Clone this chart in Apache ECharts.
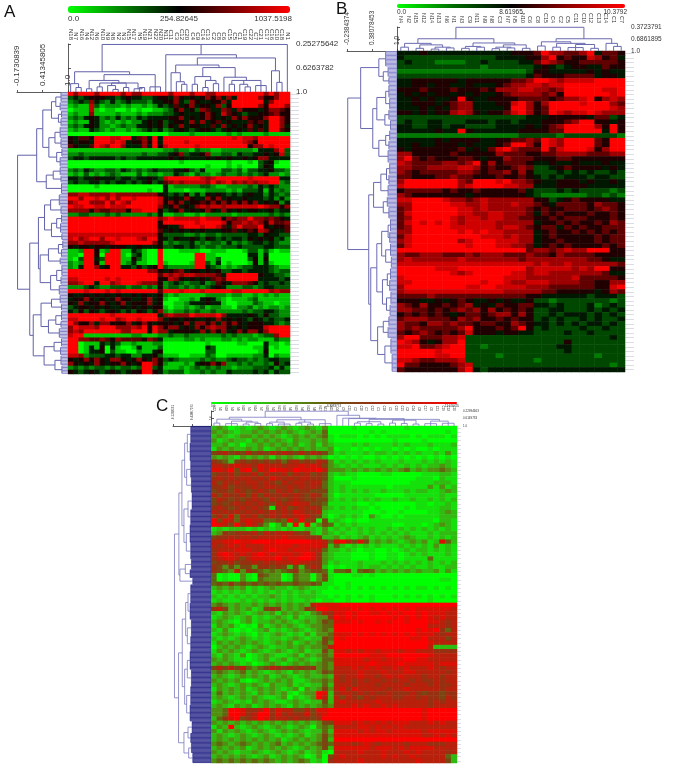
<!DOCTYPE html>
<html>
<head>
<meta charset="utf-8">
<title>Heatmaps</title>
<script src="https://cdn.jsdelivr.net/npm/echarts@6/dist/echarts.min.js"></script>
<style>
  html, body { margin: 0; padding: 0; background: #fff; }
  #chart { width: 677px; height: 769px; }
</style>
</head>
<body>
<div id="chart"></div>
<script>
// colour level of each cell, 0 = green, 4.5 = black, 9 = red
const rowsA = [
'979997 999979 779999 979997 997799 999999 979799',
'343455 544345 443345 547545 457574 749999 755799',
'234374 324234 333244 557437 544557 499999 947999',
'121183 122212 112124 346457 455473 599999 759997',
'011181 011001 010011 235745 376447 647555 457765',
'121171 111211 121222 334544 457548 654344 556755',
'232454 232423 243444 455745 457545 475755 579975',
'121154 212121 224545 345547 474564 544465 649975',
'232454 221232 244545 354745 544647 454574 549974',
'121143 212112 123434 234543 455434 545464 649965',
'000000 000000 000000 011112 111111 212111 121111',
'546659 998899 467494 999999 999999 989887 999999',
'545549 998984 557594 999989 999999 999875 999999',
'654469 879974 447495 899999 899999 999957 798999',
'111111 111111 111111 223221 322112 222221 444793',
'223222 222222 223223 345734 457223 324334 454583',
'344344 444343 344444 454544 445454 544545 774444',
'000000 000000 000000 000100 000000 100010 345100',
'000000 000000 000000 000000 001000 101000 354000',
'232432 233243 232343 334453 241113 323133 445332',
'121312 123211 131221 224321 322123 223232 342212',
'443445 444344 344543 899999 987899 999989 999944',
'343344 343443 434534 678788 887978 978787 889923',
'000001 000000 000000 412222 233211 222232 434322',
'000000 000000 000100 411101 112222 121333 414232',
'778877 778777 777775 434352 425454 343454 424323',
'997998 979799 899998 545475 447574 544544 434242',
'789977 797987 999998 575745 565757 575757 454524',
'988998 898889 999997 457454 787887 888888 987757',
'777757 667775 889995 345745 457547 545455 445344',
'223322 232322 222324 112211 212222 212222 223232',
'999999 999999 999997 898888 898885 767797 767654',
'999999 999999 999995 999999 899998 577878 758667',
'999999 999999 999995 544799 989986 479777 954556',
'999999 999999 999996 454545 454445 564565 875446',
'888888 888888 888885 333322 323323 333344 354433',
'897899 799899 987995 435445 435434 344354 545342',
'778777 778999 999975 232334 232332 423234 434322',
'545545 545554 454445 334434 323323 334333 344333',
'112995 129911 431009 000111 100111 000133 131011',
'110995 099910 341009 000000 991100 000044 140000',
'103994 399911 531009 000000 991130 000035 150000',
'212995 199912 411009 100001 993140 100015 141000',
'214997 459944 353459 322222 994321 212334 443211',
'999999 999999 999775 456745 545453 344344 443233',
'999999 999999 999996 878788 777764 999999 544332',
'889999 989899 999995 587545 454676 999999 444434',
'778994 997899 987775 234323 342365 477765 343343',
'222343 223332 332325 233232 323454 222332 344333',
'999899 989899 999996 999899 989999 988999 997877',
'544545 454544 545445 212111 112222 122112 121211',
'455754 545755 445745 100112 145421 011123 111111',
'547455 754574 555745 001124 445441 001113 211011',
'345545 454454 545455 101121 231221 102231 212212',
'435354 345434 354347 212232 322322 222323 344322',
'999999 998999 999994 787779 888897 444454 353322',
'889999 899789 989997 455455 445474 545435 434334',
'975574 775557 457545 554574 775747 575455 544323',
'798887 999777 879597 577454 757877 545455 589999',
'787999 999977 999597 745555 474757 457577 579999',
'899111 111111 221112 232232 222223 232221 233799',
'997766 765766 665764 111122 121112 212122 111322',
'990111 434311 211122 000000 001000 001100 041101',
'990141 504100 141113 000000 004300 000001 140100',
'990144 503110 021145 000000 003300 000000 150000',
'887233 344344 224453 111001 113200 111112 240211',
'545757 547754 575475 343222 232322 343323 234433',
'754547 545575 459975 211121 455757 223232 232534',
'232323 323233 239934 111212 323232 212223 334242',
'543454 345434 559954 233312 232322 433334 342433'
];

const rowsB = [
'444544 444444 444555 697766 794665',
'433333 333333 344445 579565 587564',
'343332 222334 333344 687655 666665',
'333333 333332 333333 454345 544655',
'222222 222222 222223 554444 454544',
'333333 333333 333334 655566 664554',
'445555 554555 555667 998788 889999',
'445545 544544 456778 878899 999999',
'555655 565556 577788 776799 999889',
'454545 545454 456777 767599 999989',
'445454 459544 555566 665677 895787',
'445554 567744 455897 579999 899976',
'444545 467744 445997 569999 999987',
'554545 578754 556897 569878 898777',
'333333 333333 333334 445555 546634',
'343344 333444 344344 455567 995545',
'443344 344333 344445 456799 997595',
'444445 449544 444455 556699 999495',
'222222 222222 222233 333233 333332',
'444445 455554 455667 698799 996599',
'445445 554544 456997 598799 996599',
'545555 556454 689766 696899 985799',
'775555 565555 576665 566777 766677',
'796565 556654 557666 555665 555555',
'876666 776795 756665 445445 444544',
'776677 778875 655676 334565 555454',
'765666 667765 667575 333434 343343',
'665556 676655 565565 434344 434433',
'799999 997699 989776 544555 454454',
'899999 997899 998877 444555 544444',
'566666 565565 555564 333434 333323',
'765555 555455 555554 322222 233232',
'889999 877678 777777 553456 555544',
'779999 988778 777877 654666 657665',
'679999 998878 777776 565566 656765',
'689999 998877 887776 465655 565565',
'679999 987887 887766 556566 655565',
'689898 987888 877777 455656 556576',
'679999 988888 878876 566465 655666',
'779999 998989 887777 456556 565656',
'689999 999998 887877 456555 556566',
'789999 997899 988877 455655 556566',
'689999 999899 988776 456565 555656',
'999999 999999 999996 776787 799955',
'766777 666767 776667 665766 665555',
'787777 778777 777767 777777 766544',
'888888 888888 888888 787787 777776',
'999998 889999 999997 888887 879955',
'999999 987899 999887 887777 777644',
'899999 999999 998887 777778 666665',
'889999 999998 998778 887777 665577',
'799999 999889 988887 776666 665589',
'788888 888888 887777 766555 554576',
'666676 666666 666665 544444 434443',
'555445 456544 545445 332333 333323',
'765755 656745 465566 443433 342343',
'776656 567675 756565 334433 343434',
'565656 545665 677575 334344 434343',
'677766 657675 565655 343433 434334',
'766577 676656 655765 443434 344343',
'767666 667955 565695 343333 433433',
'656765 656855 545544 333343 343333',
'799666 778333 333333 333333 333343',
'987545 779333 333333 333353 333333',
'889667 899332 333333 333443 333333',
'999998 999333 333333 333343 333333',
'999998 899333 323333 333333 332333',
'887667 778333 333333 233333 333333',
'966555 567833 333333 333333 333323',
'655555 557943 444444 444444 444444'
];

const rowsC = [
'232012 123212 321232 130000 100000 000100 000000',
'323212 232323 232123 240000 000101 000000 000010',
'232123 323232 123232 341011 101010 111101 011101',
'312322 132323 213223 231000 000000 010000 100000',
'223120 223232 323123 132111 212111 121211 121112',
'132322 323123 232323 223011 010101 101010 010111',
'567565 756576 765757 653121 112122 121212 112131',
'323213 232313 232132 320101 010010 101010 101010',
'654256 565656 467565 763121 212121 112111 212121',
'776787 768777 677878 753212 121112 121212 122321',
'887958 958798 879888 973332 323232 323423 233432',
'566756 675766 757675 652121 100001 100000 111221',
'676767 767687 676776 652000 100000 000001 110211',
'757676 776765 767767 742111 000000 000011 112221',
'667566 676776 676767 642121 111111 011111 131312',
'566576 567657 675665 552121 212112 111212 211232',
'757667 575766 767657 642011 111100 000111 111211',
'576565 676576 567656 552121 212121 121121 121212',
'565676 767657 678775 541111 100100 000001 101121',
'676567 676516 756767 632121 211010 000101 111221',
'767676 767676 768766 721111 110001 001000 011232',
'575847 675676 767876 520121 210310 010111 111222',
'958747 877445 495956 051210 100111 111111 110221',
'987596 875302 419191 354121 211111 100111 012321',
'121222 121212 121122 131212 121211 212121 212121',
'236566 675767 776562 132121 121212 121211 121222',
'566767 767777 877766 622312 123121 212321 121212',
'778898 899989 999998 874897 585232 321232 312842',
'767878 777888 887888 872421 212121 112121 213121',
'677788 877898 878887 742212 101100 101212 212121',
'689878 789878 887898 632111 000100 110121 211121',
'678875 788889 788998 632111 000100 110111 141111',
'566756 676767 778776 631211 121112 121212 121212',
'653535 536656 525257 620101 121221 212121 121122',
'654373 654343 456345 541445 145423 232323 223131',
'401003 105433 014330 351000 110100 000000 000000',
'401003 104333 014330 351000 000000 000000 000110',
'454645 454545 445445 411001 000000 000000 000000',
'232323 121232 212321 110101 010101 010101 101010',
'121212 121212 121212 100000 000000 000000 000000',
'212121 212232 121222 110101 010100 010101 010101',
'121112 121212 121121 011001 000100 000000 010000',
'343232 232323 232327 888899 999999 999999 999999',
'675232 312565 232365 998888 989898 989898 888887',
'213232 123231 323213 476889 899889 898998 988877',
'123212 312123 213122 336989 899999 989898 987877',
'232102 312232 321232 354888 989989 899899 988767',
'132310 103123 232123 344999 999999 999999 977767',
'213101 012312 123212 343999 999999 999998 989647',
'123212 102123 212131 334888 989898 989898 887677',
'212123 212122 123212 254989 999999 999988 977757',
'132323 232123 231232 353999 999999 999999 987777',
'023232 123212 232323 347999 999999 999999 972222',
'132321 232123 212312 253887 878878 887887 776666',
'213213 012321 123132 343999 999888 999999 987777',
'323211 012312 312321 244888 887887 888998 877777',
'232321 201232 123232 343888 888988 889888 887888',
'575757 434576 565656 343777 878787 787877 787677',
'343234 232123 213232 354777 787778 777887 777767',
'232123 232312 321232 232767 787767 878777 677677',
'323231 012323 231123 343767 676776 767767 667677',
'232123 232132 231212 242777 677767 777677 767667',
'132323 123232 123032 353786 877777 677877 777677',
'242323 213232 310233 982677 676766 766676 566566',
'232123 232112 302123 972757 657677 766776 766576',
'123212 132321 123212 252787 777787 777777 767677',
'232132 312323 213232 343777 878778 787777 767777',
'334998 667968 775575 889999 999999 999999 899999',
'334998 679968 676685 789999 999999 999999 899999',
'246895 679867 767665 699999 999999 999999 899999',
'323232 323232 323232 355888 787878 788877 787877',
'132921 232123 212320 343777 788787 878777 777777',
'313232 123212 323212 242888 878788 788888 788888',
'232123 212321 212312 353888 888888 888888 778787',
'232323 232323 123232 352999 999999 999999 999999',
'343234 323234 232323 454777 678767 777677 766677',
'232323 123232 321232 352888 888788 878788 887777',
'323212 232123 212312 310777 787778 777878 777767',
'232323 212312 323201 305787 777778 787787 777742',
'343434 343432 323431 206777 787777 777778 777752'
];

const samplesA = ['N18','N7','N16','N4','N12','N6','N10','N9','N8','N2','N3','N15','N17','N5','N19','N21','N22','N20','N11','C11','C3','C12','C20','C4','C9','C14','C13','C2','C8','C6','C15','C5','C1','C19','C22','C7','C21','C17','C16','C10','C18','N1'];
const samplesB = ['N4','N2','N15','N12','N14','N13','N6','N1','N3','C9','N11','N9','N8','C3','N7','N5','N10','C6','C8','C15','C4','C2','C5','C11','C10','C12','C13','C14','C1','C7'];
const samplesC = ['N12','N5','N18','N3','N9','N20','N1','N14','N7','N16','N2','N21','N10','N6','N19','N4','N13','N8','N17','N11','N15','C4','C9','C15','C2','C20','C7','C12','C1','C18','C5','C10','C21','C3','C14','C8','C17','C6','C11','C19','C13','C16'];

// dendrograms: [merge height, children...], a plain number is that many leaves
const colTreeA = [0.26,
  [0.685,
    [0.87, 1, [0.93, 2]],
    [0.73,
      [0.82, [0.95, 2], [0.86, [0.92, 2], [0.86, [0.9, 1, [0.96, 2]], [0.93, 2]], [0.95, 1, [0.93, 2]]]],
      [0.92, 1, 2]]],
  [0.42,
    1,
    [0.47,
      [0.58,
        [0.7, 1, [0.84, 1, [0.88, 2]]],
        [0.62,
          [0.76, [0.88, 2], [0.82, [0.93, 2], [0.87, 2]]],
          [0.77, 1, [0.82, [0.88, 2], [0.88, 1, [0.92, 2]], [0.9, 3]]]]],
      [0.67, 1, [0.85, 2]]]],
  1];
const colTreeB = [0.38,
  [0.68,
    [0.8, [0.9, 2], [0.84, [0.93, 2], [0.9, [0.95, 2], [0.92, 2]]]],
    [0.79, [0.88, [0.93, 2], [0.9, 2]], [0.84, [0.9, [0.94, 2], [0.92, 2]], [0.93, 2]]]],
  [0.68,
    [0.76, [0.87, 2], [0.8, [0.9, 2], [0.83, [0.91, 3], [0.93, 2]]]],
    [0.8, 1, [0.88, 2]]]];
const colTreeC = [0.24,
  [0.55,
    [0.65, [0.85, 2], [0.75, [0.88, 3], [0.8, [0.9, 2], [0.87, 2]]]],
    [0.68, [0.8, [0.88, 2], [0.9, 3]], [0.8, [0.86, 2], [0.9, 2]], [0.88, 3]]],
  [0.45, 1, [0.6, 1, [0.62, 1, [0.66,
    [0.78, [0.85, 2], [0.88, 2], [0.9, 2]],
    [0.7, [0.85, 2], [0.87, 2], [0.9, 2]],
    [0.75, [0.88, 3], [0.86, 3]]]]]]];

const rowTreeA = [-0.16,
  [0.28,
    [0.42,
      [0.62, [0.72, [0.84, 7], [0.82, 6]], [0.78, [0.85, 5], [0.84, 6]]],
      [0.56, [0.7, [0.82, 8], [0.84, 7]], [0.74, [0.86, 6], [0.82, 7]]]],
    [0.5, [0.66, [0.82, 6], [0.84, 5]], [0.85, 8]]],
  [0.12,
    [0.32,
      [0.46, [0.6, [0.8, 8], [0.84, 6]], [0.62, [0.74, [0.85, 6], [0.83, 7]], [0.86, 5]]],
      [0.36, [0.55, [0.78, [0.88, 6], [0.85, 6]], [0.82, 5]], [0.6, [0.74, [0.86, 8], [0.84, 6]], [0.8, 7]]]],
    [0.2,
      [0.38, [0.62, [0.82, 6], [0.85, 5]], [0.55, [0.72, [0.85, 7], [0.84, 5]], [0.8, 7]]],
      [0.45, [0.68, [0.85, 6], [0.83, 6]], [0.7, [0.84, 7], [0.86, 6]]]]]];
const rowTreeB = [-0.22,
  [0.1,
    [0.55, [0.72, 12], [0.66, [0.78, 8], [0.8, 6]]],
    [0.4,
      [0.5, [0.72, [0.8, 10], [0.82, 9]], [0.7, [0.8, 8], [0.84, 8]]],
      [0.55, [0.72, [0.82, 8], [0.8, 7]], [0.78, 10]]]],
  [0.3,
    [0.42, [0.6, [0.74, [0.82, 9], [0.8, 8]], [0.78, 9]], [0.66, [0.76, 8], [0.8, 9]]],
    [0.35,
      [0.5,
        [0.62, [0.78, [0.84, 10], [0.82, 9]], [0.72, [0.84, 10], [0.86, 9]]],
        [0.64, [0.76, [0.84, 9], [0.82, 9]], [0.74, [0.85, 10], [0.83, 9]]]],
      [0.52, [0.66, [0.8, 8], [0.78, 9]], [0.7, [0.85, 12], [0.88, 14]]]]]];
const rowTreeC = [-0.08,
  [0.05,
    [0.14,
      [0.22, [0.3, [0.4, 20], [0.38, 22]], [0.28, [0.4, 20], [0.42, 18]]],
      [0.2, [0.32, [0.44, 20], [0.4, 18]], [0.27, [0.38, 22], [0.4, 20]]]],
    [0.08, [0.24, [0.42, 12], [0.38, 10]], [0.46, 8]]],
  [0.04,
    [0.15,
      [0.25, [0.32, [0.4, 22], [0.38, 20]], [0.3, [0.42, 20], [0.4, 18]]],
      [0.22, [0.3, [0.38, 22], [0.42, 20]], [0.28, [0.4, 22], [0.38, 20]]]],
    [0.2, [0.32, [0.44, 14], [0.4, 12]], [0.34, [0.42, 12], [0.46, 12]]]]];

const colTicksA = [0.25275642, 0.6263782, 1];
const colTicksB = [0.3723791, 0.6861895, 1];
const colTicksC = [0.22994663, 0.6149733, 1];
const rowTicksA = [-0.1730839, 0.41345805, 1];
const rowTicksB = [-0.2384374, 0.38078453, 1];
const rowTicksC = [-0.1238561, 0.43807195, 1];
const barLabelsA = ['0.0', '254.82645', '1037.5198'];
const barLabelsB = ['0.0', '8.61965', '10.3792'];
const barLabelsC = ['0.0', '6.3283774', '12.656755'];

const paletteA = ['#00ff00', '#000000', '#ff0000'];
const paletteB = ['#00ff00', '#006a00', '#000000', '#900000', '#ff0000'];
// C is printed so fine that the middle of the scale reads as olive and brown
const paletteC = ['#00ff00', '#20d010', '#509010', '#6b5010', '#963010', '#c81808', '#ff0000'];

const FONT = '"Liberation Sans", Arial, sans-serif';

const panels = [
  { letter: 'A', lx: 4, ly: 4, rows: rowsA, samples: samplesA, colTree: colTreeA, rowTree: rowTreeA,
    colTicks: colTicksA, rowTicks: rowTicksA, barLabels: barLabelsA, palette: paletteA,
    left: 68, top: 92, w: 222, h: 282, barTop: 6, barH: 7, barLabelY: 15, colTop: 44, rowLeft: 17,
    labelOffset: 52, nameSize: 6, tickSize: 8, barSize: 8, fringe: 9,
    lineColor: '#6262aa', combColor: '#8484c8', lineW: 1 },
  { letter: 'B', lx: 336, ly: 1, rows: rowsB, samples: samplesB, colTree: colTreeB, rowTree: rowTreeB,
    colTicks: colTicksB, rowTicks: rowTicksB, barLabels: barLabelsB, palette: paletteB,
    left: 397, top: 51, w: 228, h: 321, barTop: 4, barH: 4, barLabelY: 9, colTop: 27, rowLeft: 347,
    labelOffset: 28, nameSize: 5.5, tickSize: 6.5, barSize: 6.5, fringe: 9,
    lineColor: '#6a6ab0', combColor: '#8c8cd0', lineW: 1 },
  { letter: 'C', lx: 156, ly: 398, rows: rowsC, samples: samplesC, colTree: colTreeC, rowTree: rowTreeC,
    colTicks: colTicksC, rowTicks: rowTicksC, barLabels: barLabelsC, palette: paletteC,
    left: 211, top: 426, w: 246, h: 337, barTop: 402, barH: 2, barLabelY: 404.5, colTop: 411, rowLeft: 173,
    labelOffset: 15, nameSize: 3, tickSize: 3, barSize: 3, fringe: 4,
    lineColor: '#7878c0', combColor: '#12127c', lineW: 0.8 }
];

// flatten a tree into line points, gaps between the pieces
function layoutTree(tree, flip) {
  const lines = [], comb = [];
  let next = 0;
  const pt = (pos, h) => (flip ? [h, pos] : [pos, h]);
  const gap = ['-', '-'];
  function walk(node) {
    const h = node[0];
    const kids = [];
    node.slice(1).forEach(c => {
      if (typeof c === 'number') {
        for (let i = 0; i < c; i++) kids.push({ pos: next++ + 0.5, h: 1, leaf: true });
      } else {
        kids.push(walk(c));
      }
    });
    kids.forEach(k => {
      (k.leaf ? comb : lines).push(pt(k.pos, k.h), pt(k.pos, h), gap);
    });
    const a = kids[0].pos, b = kids[kids.length - 1].pos;
    lines.push(pt(a, h), pt(b, h), gap);
    return { pos: (a + b) / 2, h: h };
  }
  walk(tree);
  return { lines, comb, count: next };
}

const grid = [], xAxis = [], yAxis = [], series = [], visualMap = [], graphic = [];

panels.forEach((p, i) => {
  grid.push({ left: p.left, top: p.top, width: p.w, height: p.h, outerBoundsMode: 'none' });
  xAxis.push({
    type: 'category', gridIndex: i, position: 'top', offset: p.labelOffset,
    data: p.samples,
    axisLine: { show: false }, axisTick: { show: false }, splitLine: { show: false },
    axisLabel: { interval: 0, rotate: 90, margin: 0, fontSize: p.nameSize, color: '#333', fontFamily: FONT }
  });
  yAxis.push({
    type: 'category', gridIndex: i, position: 'right', inverse: true,
    data: p.rows.map((r, k) => k),
    axisLine: { show: false },
    axisTick: { show: true, length: p.fringe, lineStyle: { color: '#dcdce4', width: 1 }, alignWithLabel: true, interval: 0 },
    axisLabel: { show: false }, splitLine: { show: false }
  });
  const cells = [];
  p.rows.forEach((r, y) => {
    r.replace(/ /g, '').split('').forEach((c, x) => cells.push([x, y, +c]));
  });
  series.push({
    type: 'heatmap', xAxisIndex: i, yAxisIndex: i, data: cells,
    progressive: 0, silent: true, emphasis: { disabled: true }
  });
  visualMap.push({
    type: 'continuous', seriesIndex: i, min: 0, max: 9, orient: 'horizontal',
    left: p.left, top: p.barTop, itemHeight: p.w, itemWidth: p.barH,
    padding: 0, text: null, calculable: false, hoverLink: false,
    inRange: { color: p.palette }
  });
  graphic.push({ type: 'text', left: p.lx, top: p.ly, style: { text: p.letter, fontSize: 17, fill: '#111', fontFamily: FONT } });
  const aligns = ['left', 'center', 'right'];
  const xs = [p.left, p.left + p.w / 2, p.left + p.w + 2];
  p.barLabels.forEach((t, k) => {
    graphic.push({ type: 'text', x: xs[k], y: p.barLabelY, style: { text: t, align: aligns[k], fontSize: p.barSize, fill: '#333', fontFamily: FONT } });
  });
});

// dendrogram above the columns
panels.forEach((p, i) => {
  const t = layoutTree(p.colTree, false);
  const g = grid.length;
  grid.push({ left: p.left, top: p.colTop, width: p.w, height: p.top - p.colTop, outerBoundsMode: 'none' });
  xAxis.push({ type: 'value', gridIndex: g, min: 0, max: t.count, show: false });
  yAxis.push({
    type: 'value', gridIndex: g, position: 'right', offset: 3, inverse: true,
    min: p.colTicks[0], max: 1, splitLine: { show: false },
    axisLine: { show: true, lineStyle: { color: '#333', width: 0.8 } },
    axisTick: { show: true, length: 3, customValues: p.colTicks, lineStyle: { color: '#333', width: 0.8 } },
    axisLabel: { customValues: p.colTicks, margin: 3, fontSize: p.tickSize, color: '#333', fontFamily: FONT, formatter: v => (v === 1 ? '1.0' : String(v)) }
  });
  [[t.lines, p.lineColor], [t.comb, p.lineColor]].forEach(d => {
    series.push({ type: 'line', xAxisIndex: g, yAxisIndex: g, data: d[0], showSymbol: false, silent: true, clip: false, lineStyle: { color: d[1], width: p.lineW } });
  });
});

// dendrogram left of the rows
panels.forEach((p, i) => {
  const t = layoutTree(p.rowTree, true);
  const g = grid.length;
  grid.push({ left: p.rowLeft, top: p.top, width: p.left - p.rowLeft, height: p.h, outerBoundsMode: 'none' });
  xAxis.push({
    type: 'value', gridIndex: g, position: 'top', offset: 3,
    min: p.rowTicks[0], max: 1, splitLine: { show: false },
    axisLine: { show: true, lineStyle: { color: '#333', width: 0.8 } },
    axisTick: { show: true, length: 2, customValues: p.rowTicks, lineStyle: { color: '#333', width: 0.8 } },
    axisLabel: { customValues: p.rowTicks, rotate: 90, margin: 3, fontSize: p.tickSize, color: '#333', fontFamily: FONT, formatter: v => (v === 1 ? '1.0' : String(v)) }
  });
  yAxis.push({ type: 'value', gridIndex: g, min: 0, max: t.count, inverse: true, show: false });
  [[t.lines, p.lineColor], [t.comb, p.combColor]].forEach(d => {
    series.push({ type: 'line', xAxisIndex: g, yAxisIndex: g, data: d[0], showSymbol: false, silent: true, clip: false, lineStyle: { color: d[1], width: p.lineW } });
  });
});

const chart = echarts.init(document.getElementById('chart'), null, { renderer: 'canvas' });
chart.setOption({
  backgroundColor: '#fff',
  animation: false,
  tooltip: { show: false },
  grid, xAxis, yAxis, series, visualMap, graphic
});
</script>
</body>
</html>
